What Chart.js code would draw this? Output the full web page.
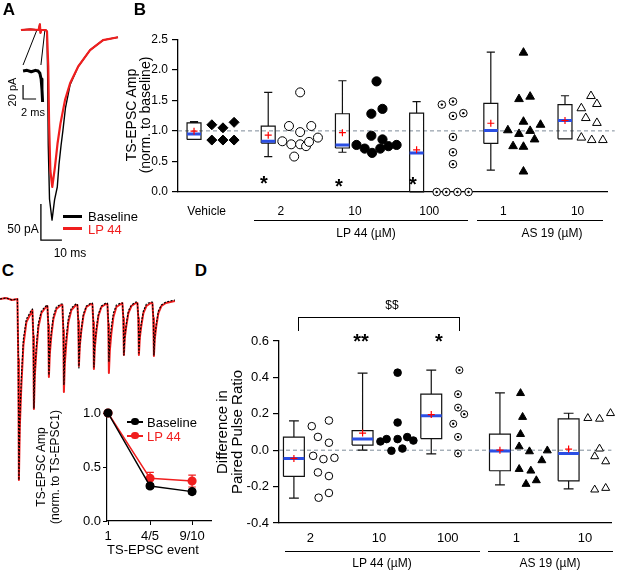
<!DOCTYPE html>
<html>
<head>
<meta charset="utf-8">
<script src="https://cdn.jsdelivr.net/npm/chart.js@4.4.0/dist/chart.umd.min.js"></script>
<style>
  body { margin: 0; background: #fff; }
  #fig { position: relative; width: 617px; height: 570px; overflow: hidden; font-family: "Liberation Sans", Arial, sans-serif; }
  #fig canvas { position: absolute; }
  .t { position: absolute; white-space: nowrap; line-height: 1; }
  .ln { position: absolute; background: #000; }
</style>
</head>
<body>
<div id="fig">
  <canvas id="cA" width="160" height="260" style="left:0;top:0"></canvas>
  <canvas id="cB" width="497" height="200" style="left:120px;top:28px"></canvas>
  <canvas id="cTrain" width="180" height="200" style="left:0;top:290px"></canvas>
  <canvas id="cC" width="160" height="160" style="left:60px;top:400px"></canvas>
  <canvas id="cD" width="427" height="245" style="left:190px;top:325px"></canvas>
</div>
<script>
// ---------- A : evoked TS-EPSC (ms, pA)
const epscBaseline = [[-12.4,0],[-8,1],[-4,0],[-3.4,8],[-3.1,-4],[-2.7,0],[-0.6,0],[0,-2],[0.3,-60],[0.6,-160],[1.2,-235],[2.4,-264],[3.6,-236],[4.9,-218],[5.7,-187],[6.7,-160],[7.6,-139],[8.8,-108],[11,-76],[14.8,-51],[20.5,-28],[26.7,-14],[33.8,-10]];
const epscLp44 = [[-12.4,0],[-8,1],[-4,0],[-3.4,8],[-3.1,-4],[-2.7,0],[-0.6,0],[0,-2],[0.6,-50],[1.0,-130],[1.6,-195],[2.5,-218],[3.8,-190],[5.0,-158],[6.4,-130],[8.6,-97],[11,-74],[14.8,-51],[20.5,-28],[26.7,-14],[33.8,-10]];
const epscInset = [[-11.4,-57],[-9.5,-56],[-7.5,-58],[-5.5,-56],[-4.2,-57],[-3.4,-60],[-2.8,-68],[-2.4,-82],[-2.1,-100]];
const insetGuides = [[-11.4,-48.6],[-4.8,0],null,[-2.9,-48.6],[-1.0,0]];
const insetScaleBar = [[-11.4,-76.4],[-11.4,-95.8],[-5.2,-95.8]];   // 20 pA / 2 ms
const mainScaleBar = [[-2.9,-241.7],[-2.9,-291.7],[7.1,-291.7]];    // 50 pA / 10 ms

// ---------- B : TS-EPSC amplitude
const bLabels = ['Vehicle', '2', '10', '100', '1', '10'];
// [whisker low, q1, median, q3, whisker high, mean]
const bStats = [
  [0.86, 0.86, 0.95, 1.13, 1.15, 0.995],
  [0.58, 0.80, 0.83, 1.077, 1.63, 0.93],
  [0.65, 0.72, 0.77, 1.28, 1.82, 0.97],
  [0, 0, 0.64, 1.29, 1.48, 0.69],
  [0.357, 0.795, 1.006, 1.45, 2.29, 1.125],
  [0.87, 0.87, 1.17, 1.43, 1.575, 1.17]
];
const bVehicle = [1.10, 1.05, 1.14, 0.85, 0.85, 0.85];
const bLp2 = [1.63, 1.08, 1.08, 0.98, 0.83, 0.78, 0.78, 0.75, 0.82, 0.89, 0.58];
const bLp10 = [1.81, 1.28, 1.36, 0.92, 0.86, 0.77, 0.71, 0.64, 0.71, 0.75, 0.77];
const bLp100 = [1.43, 1.48, 1.245, 1.29, 0.90, 0.65, 0.455, 0, 0, 0, 0];
const bAs1 = [2.28, 1.52, 1.56, 1.15, 1.10, 1.01, 0.95, 1.00, 0.86, 0.75, 0.74, 0.335];
const bAs10 = [1.57, 1.44, 1.37, 1.21, 1.13, 0.89, 0.85, 0.85];
// horizontal spread of the dots next to each box (category units)
const bJitter = [
  [0.24, 0.39, 0.54, 0.24, 0.39, 0.54],
  [0.43, 0.28, 0.58, 0.43, 0.19, 0.31, 0.43, 0.51, 0.55, 0.67, 0.35],
  [0.46, 0.39, 0.54, 0.39, 0.54, 0.19, 0.30, 0.40, 0.51, 0.62, 0.73],
  [0.34, 0.49, 0.49, 0.63, 0.49, 0.49, 0.49, 0.27, 0.40, 0.55, 0.70],
  [0.44, 0.38, 0.53, 0.44, 0.67, 0.23, 0.38, 0.53, 0.59, 0.30, 0.44, 0.44],
  [0.35, 0.43, 0.22, 0.28, 0.43, 0.22, 0.36, 0.51]
];

// ---------- C : train of TS-EPSCs (ms, pA) and normalised amplitudes
const trainBaseline = [[0,0],[20,1],[40,-1],[58,0],[61,-60],[63,-181],[66,-120],[71,-80],[78,-40],[88,-20],[103,-12],
  [108,-10],[111,-36],[113,-109],[116,-72],[121,-48],[128,-24],[138,-12],[153,-7],
  [158,-6],[161,-25],[163,-76],[166,-50],[171,-33],[178,-17],[188,-8],[203,-5],
  [208,-5],[211,-28],[213,-86],[216,-57],[221,-38],[228,-19],[238,-9],[253,-5],
  [258,-5],[261,-23],[263,-69],[266,-46],[271,-30],[278,-15],[288,-7],[303,-4],
  [308,-4],[311,-22],[313,-68],[316,-45],[321,-30],[328,-15],[338,-7],[353,-4],
  [358,-4],[361,-21],[363,-63],[366,-42],[371,-28],[378,-14],[388,-6],[403,-4],
  [408,-4],[411,-18],[413,-56],[416,-37],[421,-25],[428,-12],[438,-6],[453,-3],
  [458,-3],[461,-18],[463,-54],[466,-36],[471,-24],[478,-12],[488,-5],[503,-3],
  [508,-3],[511,-18],[513,-56],[516,-37],[521,-25],[528,-12],[538,-6],[553,-3],[583,-1]];
const trainLp44 = [[0,0],[20,1],[40,-1],[58,0],[61,-60],[63,-181],[66,-128],[71,-88],[78,-46],[88,-23],[103,-14],
  [108,-11],[111,-37],[113,-110],[116,-77],[121,-53],[128,-28],[138,-14],[153,-8],
  [158,-7],[161,-26],[163,-78],[166,-55],[171,-37],[178,-20],[188,-10],[203,-6],
  [208,-6],[211,-31],[213,-93],[216,-65],[221,-44],[228,-23],[238,-11],[253,-6],
  [258,-6],[261,-22],[263,-67],[266,-47],[271,-32],[278,-17],[288,-8],[303,-5],
  [308,-5],[311,-23],[313,-70],[316,-49],[321,-33],[328,-17],[338,-8],[353,-5],
  [358,-5],[361,-25],[363,-74],[366,-52],[371,-35],[378,-18],[388,-8],[403,-5],
  [408,-4],[411,-19],[413,-56],[416,-39],[421,-27],[428,-14],[438,-7],[453,-4],
  [458,-4],[461,-19],[463,-56],[466,-39],[471,-27],[478,-14],[488,-7],[503,-4],
  [508,-4],[511,-19],[513,-57],[516,-40],[521,-27],[528,-14],[538,-7],[553,-4],[583,-2]];
const cEvents = ['1', '4/5', '9/10'];
const cBaseline = [1.0, 0.324, 0.272];
const cBaselineErr = [0, 0.02, 0.02];
const cLp44 = [1.0, 0.395, 0.37];
const cLp44Err = [0, 0.055, 0.055];

// ---------- D : paired pulse ratio difference
const dLabels = ['2', '10', '100', '1', '10'];
const dStats = [
  [-0.263, -0.144, -0.045, 0.072, 0.161, -0.045],
  [0.0, 0.028, 0.061, 0.108, 0.424, 0.094],
  [-0.02, 0.064, 0.189, 0.308, 0.44, 0.196],
  [-0.19, -0.113, -0.005, 0.088, 0.315, 0.0],
  [-0.212, -0.168, -0.018, 0.172, 0.203, 0.006]
];
const dLp2 = [0.132, 0.163, 0.073, 0.041, -0.031, -0.049, -0.042, -0.122, -0.142, -0.261, -0.235];
const dLp10 = [0.426, 0.152, 0.048, 0.061, 0.061, 0.072, 0.053, -0.003, 0.009];
const dLp100 = [0.44, 0.308, 0.234, 0.198, 0.145, 0.073, -0.018];
const dAs1 = [0.313, 0.182, 0.088, 0.02, -0.007, -0.002, -0.056, -0.104, -0.113, -0.186, -0.166];
const dAs10 = [0.176, 0.172, 0.203, 0.008, -0.034, -0.062, -0.217, -0.208];
const dJitter = [
  [0.26, 0.51, 0.35, 0.51, 0.28, 0.43, 0.59, 0.35, 0.51, 0.36, 0.51],
  [0.51, 0.51, 0.26, 0.35, 0.51, 0.65, 0.74, 0.42, 0.58],
  [0.41, 0.39, 0.39, 0.48, 0.32, 0.39, 0.39],
  [0.30, 0.33, 0.30, 0.28, 0.43, 0.69, 0.61, 0.28, 0.45, 0.38, 0.53],
  [0.28, 0.45, 0.61, 0.45, 0.38, 0.54, 0.38, 0.54]
];

const RED = '#f01e1e';
const BLUE = '#2b4fe4';
Chart.defaults.font.family = '"Liberation Sans", Arial, sans-serif';
Chart.defaults.color = '#000';

const xy = arr => arr.map(p => p ? { x: p[0], y: p[1] } : { x: 0, y: null });
const baseOpts = { responsive: false, animation: false, events: [], devicePixelRatio: 1,
  plugins: { legend: { display: false }, tooltip: { enabled: false } } };

function lineSet(data, color, width, extra) {
  return Object.assign({ data, showLine: true, pointRadius: 0, borderColor: color, borderWidth: width,
    spanGaps: false, clip: false, tension: 0, borderJoinStyle: 'round' }, extra || {});
}

// ---------- panel A
new Chart(document.getElementById('cA'), {
  type: 'scatter',
  data: { datasets: [
    lineSet(xy(epscLp44), RED, 2.2, { order: 1 }),
    lineSet(xy(epscBaseline), '#000', 1.4, { order: 2 }),
    lineSet(xy(epscInset), '#000', 3, { order: 3 }),
    lineSet(xy(insetGuides), '#000', 1, { order: 3 }),
    lineSet(xy(insetScaleBar), '#000', 1.2, { order: 3, borderJoinStyle: 'miter' }),
    lineSet(xy(mainScaleBar), '#000', 1.3, { order: 3, borderJoinStyle: 'miter' })
  ] },
  options: Object.assign({}, baseOpts, {
    layout: { padding: 0 },
    scales: { x: { type: 'linear', display: false, min: -22.38, max: 53.81 },
              y: { display: false, min: -319.4, max: 41.67 } }
  })
});

// ---------- train in C
new Chart(document.getElementById('cTrain'), {
  type: 'scatter',
  data: { datasets: [
    lineSet(xy(trainBaseline), '#000', 1.2, { order: 1, borderDash: [2, 1.5] }),
    lineSet(xy(trainLp44), RED, 2, { order: 2 })
  ] },
  options: Object.assign({}, baseOpts, {
    layout: { padding: 0 },
    scales: { x: { type: 'linear', display: false, min: 0, max: 600 },
              y: { display: false, min: -191, max: 9 } }
  })
});

// ---------- box plots
function boxLines(stats, halfW, capW) {
  const pts = [];
  stats.forEach((s, i) => {
    const [lo, q1, , q3, hi] = s;
    pts.push({ x: i - halfW, y: q1 }, { x: i + halfW, y: q1 }, { x: i + halfW, y: q3 }, { x: i - halfW, y: q3 }, { x: i - halfW, y: q1 }, { x: i, y: null });
    pts.push({ x: i, y: q3 }, { x: i, y: hi }, { x: i, y: null });
    pts.push({ x: i - capW, y: hi }, { x: i + capW, y: hi }, { x: i, y: null });
    pts.push({ x: i, y: q1 }, { x: i, y: lo }, { x: i, y: null });
    pts.push({ x: i - capW, y: lo }, { x: i + capW, y: lo }, { x: i, y: null });
  });
  return pts;
}
function medianLines(stats, halfW) {
  const pts = [];
  stats.forEach((s, i) => pts.push({ x: i - halfW, y: s[2] }, { x: i + halfW, y: s[2] }, { x: i, y: null }));
  return pts;
}

function boxPlotChart(id, o) {
  const ds = [];
  ds.push(lineSet([{ x: o.xmin, y: o.ref }, { x: o.refEnd, y: o.ref }], '#7d8b99', 1, { borderDash: [4, 3], order: 10 }));
  ds.push(lineSet(boxLines(o.stats, o.halfW, o.capW), '#111', 1.2, { order: 6, borderJoinStyle: 'miter' }));
  ds.push(lineSet(medianLines(o.stats, o.halfW), BLUE, 3, { order: 5 }));
  ds.push({ data: o.stats.map((s, i) => ({ x: i, y: s[5] })), pointStyle: 'cross', pointRadius: 3.5,
    borderColor: '#ff0000', borderWidth: 1.2, clip: false, order: 1 });
  o.groups.forEach((g, i) => {
    const pts = g.vals.map((v, k) => ({ x: i + o.jitter[i][k], y: v }));
    ds.push({ data: pts, pointStyle: g.style, pointRadius: g.r, borderWidth: 1, borderColor: '#000',
      backgroundColor: g.fill ? '#000' : '#fff', clip: false, order: 3 });
    if (g.dot) ds.push({ data: pts, pointStyle: 'circle', pointRadius: 1.2, borderWidth: 0,
      backgroundColor: '#000', clip: false, order: 2 });
  });
  return new Chart(document.getElementById(id), {
    type: 'scatter',
    data: { datasets: ds },
    options: Object.assign({}, baseOpts, {
      layout: { padding: o.padding },
      scales: {
        x: { type: 'linear', min: o.xmin, max: o.xmax,
          afterBuildTicks: s => { s.ticks = o.labels.map((l, i) => ({ value: i + o.labelOff })); },
          afterFit: s => { s.height = o.xh; },
          grid: { display: false, drawTicks: false },
          border: { display: true, color: '#000', width: 1.3 },
          ticks: { callback: (v, i) => o.labels[i], padding: o.xpad, font: { size: o.xfont }, maxRotation: 0, autoSkip: false } },
        y: { min: o.ymin, max: o.ymax,
          afterFit: s => { s.width = o.yw; },
          grid: { drawOnChartArea: false, tickLength: 6, color: '#000', lineWidth: 1.2 },
          border: { color: '#000', width: 1.3 },
          ticks: { stepSize: o.step, padding: 4, font: { size: o.yfont },
            callback: v => (Math.round(v * 10) / 10).toFixed(1) } }
      }
    })
  });
}

boxPlotChart('cB', {
  stats: bStats, labels: bLabels, jitter: bJitter, labelOff: 0.17,
  groups: [
    { vals: bVehicle, style: 'rectRot', r: 5, fill: true },
    { vals: bLp2, style: 'circle', r: 4.5, fill: false },
    { vals: bLp10, style: 'circle', r: 4.6, fill: true },
    { vals: bLp100, style: 'circle', r: 3.8, fill: false, dot: true },
    { vals: bAs1, style: 'triangle', r: 5, fill: true },
    { vals: bAs10, style: 'triangle', r: 5, fill: false }
  ],
  halfW: 0.094, capW: 0.055, xmin: -0.216, xmax: 5.566, refEnd: 5.67, ref: 1,
  ymin: 0, ymax: 2.5, step: 0.5,
  padding: { top: 10, right: 10, left: 0, bottom: 0 }, xh: 36, yw: 58, xpad: 12, xfont: 12, yfont: 12
});

boxPlotChart('cD', {
  stats: dStats, labels: dLabels, jitter: dJitter, labelOff: 0.24,
  groups: [
    { vals: dLp2, style: 'circle', r: 3.8, fill: false },
    { vals: dLp10, style: 'circle', r: 3.8, fill: true },
    { vals: dLp100, style: 'circle', r: 3.5, fill: false, dot: true },
    { vals: dAs1, style: 'triangle', r: 4.6, fill: true },
    { vals: dAs10, style: 'triangle', r: 4.6, fill: false }
  ],
  halfW: 0.152, capW: 0.072, xmin: -0.217, xmax: 4.623, refEnd: 4.623, ref: 0,
  ymin: -0.4, ymax: 0.6, step: 0.2,
  padding: { top: 16, right: 4, left: 0, bottom: 0 }, xh: 47, yw: 89, xpad: 8, xfont: 13, yfont: 13
});

// ---------- C inset: normalised amplitudes
function errBars(vals, errs, cap) {
  const pts = [];
  vals.forEach((v, i) => {
    if (!errs[i]) return;
    pts.push({ x: i, y: v - errs[i] }, { x: i, y: v + errs[i] }, { x: i, y: null });
    pts.push({ x: i - cap, y: v + errs[i] }, { x: i + cap, y: v + errs[i] }, { x: i, y: null });
    pts.push({ x: i - cap, y: v - errs[i] }, { x: i + cap, y: v - errs[i] }, { x: i, y: null });
  });
  return pts;
}
new Chart(document.getElementById('cC'), {
  type: 'scatter',
  data: { datasets: [
    lineSet(errBars(cLp44, cLp44Err, 0.09), RED, 1.2, { order: 4 }),
    lineSet(errBars(cBaseline, cBaselineErr, 0.09), '#000', 1.2, { order: 4 }),
    lineSet(cLp44.map((v, i) => ({ x: i, y: v })), RED, 1.5, { pointRadius: 3.8, pointBackgroundColor: RED, pointBorderColor: RED, order: 2 }),
    lineSet(cBaseline.map((v, i) => ({ x: i, y: v })), '#000', 1.5, { pointRadius: 3.8, pointBackgroundColor: '#000', pointBorderColor: '#000', order: 1 })
  ] },
  options: Object.assign({}, baseOpts, {
    layout: { padding: { top: 13, right: 9, left: 0, bottom: 0 } },
    scales: {
      x: { type: 'linear', min: -0.024, max: 2.45,
        afterBuildTicks: s => { s.ticks = cEvents.map((l, i) => ({ value: i })); },
        afterFit: s => { s.height = 39; },
        grid: { drawOnChartArea: false, tickLength: 4, color: '#000' },
        border: { color: '#000', width: 1.2 },
        ticks: { callback: (v, i) => cEvents[i], padding: 4, font: { size: 13 }, maxRotation: 0, autoSkip: false } },
      y: { min: 0, max: 1,
        afterFit: s => { s.width = 47; },
        grid: { drawOnChartArea: false, tickLength: 4, color: '#000' },
        border: { color: '#000', width: 1.2 },
        ticks: { stepSize: 0.5, padding: 2, font: { size: 13 }, callback: v => v.toFixed(1) } }
    }
  })
});

// ---------- text and annotation marks
const fig = document.getElementById('fig');
function txt(s, x, y, o = {}) {
  const d = document.createElement('div');
  d.className = 't';
  d.textContent = s;
  const tr = o.left ? 'translate(0,-50%)' : 'translate(-50%,-50%)';
  d.style.cssText = `left:${x}px;top:${y + (o.dy || 0)}px;font-size:${o.size || 12}px;` +
    `font-weight:${o.bold ? 'bold' : 'normal'};color:${o.color || '#000'};transform:${tr}${o.rot ? ' rotate(-90deg)' : ''};`;
  fig.appendChild(d);
}
function bar(x, y, w, h, color) {
  const d = document.createElement('div');
  d.className = 'ln';
  d.style.cssText = `left:${x}px;top:${y}px;width:${w}px;height:${h}px;background:${color || '#000'};`;
  fig.appendChild(d);
}

// panel letters
txt('A', 9, 9, { size: 17, bold: true });
txt('B', 140, 9, { size: 17, bold: true });
txt('C', 8, 270, { size: 17, bold: true });
txt('D', 201, 270, { size: 17, bold: true });

// A annotations
txt('20 pA', 11.5, 92, { size: 11, rot: true });
txt('2 ms', 33, 112, { size: 11 });
txt('50 pA', 23, 229, { size: 12 });
txt('10 ms', 70, 253, { size: 12 });
bar(63, 215, 19, 3);
bar(63, 227, 19, 3, RED);
txt('Baseline', 88, 216, { size: 13, left: true });
txt('LP 44', 88, 229, { size: 13, left: true, color: RED });

// B annotations
txt('TS-EPSC Amp', 131, 115, { size: 14, rot: true });
txt('(norm. to baseline)', 145, 115, { size: 14, rot: true });
txt('*', 264, 178, { size: 20, bold: true, dy: 4.5 });
txt('*', 339, 181, { size: 20, bold: true, dy: 4.5 });
txt('*', 413, 179, { size: 20, bold: true, dy: 4.5 });
bar(254, 220, 214, 1.3);
bar(477, 220, 126, 1.3);
txt('LP 44 (\u00b5M)', 366, 233, { size: 12 });
txt('AS 19 (\u00b5M)', 552, 233, { size: 12 });

// C annotations
txt('TS-EPSC  Amp', 41, 467, { size: 12, rot: true });
txt('(norm. to TS-EPSC1)', 55, 467, { size: 12, rot: true });
txt('TS-EPSC event', 153, 549, { size: 13 });
bar(127, 421, 16, 1.5);
bar(127, 435, 16, 1.5, RED);
const dotC = (x, y, c) => { const d = document.createElement('div'); d.style.cssText = `position:absolute;left:${x - 3.8}px;top:${y - 3.8}px;width:7.6px;height:7.6px;border-radius:50%;background:${c};`; fig.appendChild(d); };
dotC(135, 421.7, '#000');
dotC(135, 435.7, RED);
txt('Baseline', 147, 422, { size: 13, left: true });
txt('LP 44', 147, 436, { size: 13, left: true, color: RED });

// D annotations
txt('Difference in', 221, 432, { size: 15, rot: true });
txt('Paired Pulse Ratio', 236, 432, { size: 15, rot: true });
const br = document.createElement('div');
br.style.cssText = 'position:absolute;left:298px;top:317px;width:160px;height:13px;border:1px solid #000;border-bottom:none;';
fig.appendChild(br);
txt('$$', 392, 305, { size: 12 });
txt('**', 361, 336, { size: 20, bold: true, dy: 4.5 });
txt('*', 439, 336, { size: 20, bold: true, dy: 4.5 });
bar(285, 551, 195, 1.3);
bar(488, 551, 125, 1.3);
txt('LP 44 (\u00b5M)', 382, 563, { size: 12 });
txt('AS 19 (\u00b5M)', 550, 563, { size: 12 });
</script>
</body>
</html>
